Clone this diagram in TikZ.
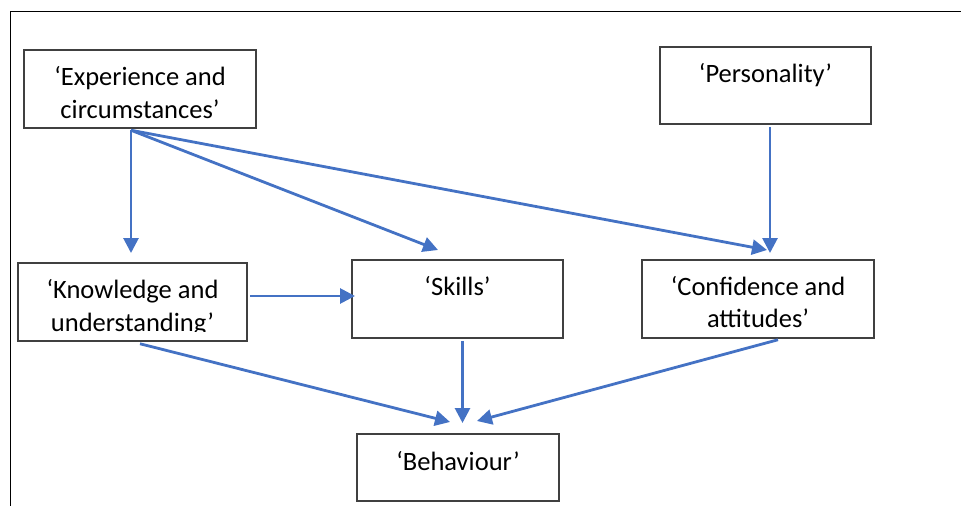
\documentclass[tikz,border=0pt]{standalone}
\usepackage{fontspec}
\setmainfont{Carlito}
\usetikzlibrary{arrows.meta}
\definecolor{linkblue}{HTML}{4472C4}
\begin{document}
\begin{tikzpicture}[x=1pt,y=-1pt,
  box/.style={draw=black!75, line width=1.5pt, inner sep=0pt},
  lbl/.style={font=\fontsize{26.5}{32}\selectfont, align=center, inner sep=0pt, anchor=base},
  link/.style={draw=linkblue, line width=2.8pt, -{Triangle[length=15pt,width=15pt]}},
  frame/.style={draw=black, line width=1.4pt}]
  \useasboundingbox (0,0) rectangle (961,506);
  % outer frame (top and left edges)
  \draw[frame] (961,11.5) -- (10.5,11.5) -- (10.5,506);

  % boxes
  \node[box, minimum width=232pt, minimum height=78pt] (exp) at (140,89) {};
  \node[box, minimum width=211pt, minimum height=77pt] (pers) at (765.5,85.5) {};
  \node[box, minimum width=229pt, minimum height=78pt] (know) at (132.5,302) {};
  \node[box, minimum width=211pt, minimum height=78pt] (skill) at (457.5,299) {};
  \node[box, minimum width=232pt, minimum height=78pt] (conf) at (758,299) {};
  \node[box, minimum width=202pt, minimum height=67pt] (behav) at (458,467.5) {};

  % labels
  \node[lbl] (expA) at (140,85) {‘Experience and};
  \node[lbl] (expB) at (140,118) {circumstances’};
  \node[lbl] (persA) at (765.5,82) {‘Personality’};
  \node[lbl] (knowA) at (132.5,298) {‘Knowledge and};
  \begin{scope}
    \clip (18,300) rectangle (247,331);
    \node[lbl] (knowB) at (132.5,331) {understanding’};
  \end{scope}
  \node[lbl] (skillA) at (457.5,295) {‘Skills’};
  \node[lbl] (confA) at (758,295) {‘Confidence and};
  \node[lbl] (confB) at (758,327) {attitudes’};
  \node[lbl] (behavA) at (458,470) {‘Behaviour’};

  % arrow tips
  \coordinate (tK) at (131,253);
  \coordinate (tS) at (438,250);
  \coordinate (tC) at (767,250);
  \coordinate (tP) at (770,253);
  \coordinate (tKS) at (355,296);
  \coordinate (tB1) at (450,422);
  \coordinate (tB2) at (462.5,423);
  \coordinate (tB3) at (477,421);

  % connectors
  \draw[link] ([xshift=-9pt,yshift=-1.5pt]exp.south) -- (tK);
  \draw[link] ([xshift=-9pt,yshift=-1.5pt]exp.south) -- (tS);
  \draw[link] ([xshift=-9pt,yshift=-1.5pt]exp.south) -- (tC);
  \draw[link] ([xshift=4.5pt,yshift=-2pt]pers.south) -- (tP);
  \draw[link] ([xshift=2pt,yshift=6pt]know.east) -- (tKS);
  \draw[link] ([xshift=7.5pt,yshift=-2pt]know.south) -- (tB1);
  \draw[link] ([xshift=5pt,yshift=-2pt]skill.south) -- (tB2);
  \draw[link] ([xshift=20pt,yshift=-1pt]conf.south) -- (tB3);
\end{tikzpicture}
\end{document}
